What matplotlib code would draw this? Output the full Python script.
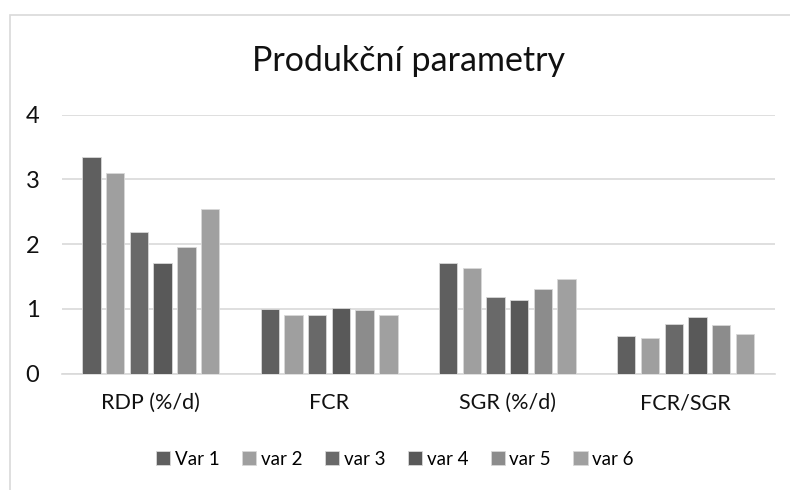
import matplotlib
matplotlib.use("Agg")
import matplotlib.pyplot as plt
from matplotlib.patches import Rectangle
import numpy as np

categories = ["RDP (%/d)", "FCR", "SGR (%/d)", "FCR/SGR"]
series_names = ["Var 1", "var 2", "var 3", "var 4", "var 5", "var 6"]
var1 = [3.34, 1.00, 1.71, 0.58]
var2 = [3.10, 0.91, 1.64, 0.55]
var3 = [2.19, 0.91, 1.18, 0.76]
var4 = [1.71, 1.02, 1.14, 0.88]
var5 = [1.95, 0.99, 1.31, 0.75]
var6 = [2.55, 0.91, 1.47, 0.61]
series = [var1, var2, var3, var4, var5, var6]
colors = ["#5f5f5f", "#9f9f9f", "#696969", "#595959", "#8c8c8c", "#a0a0a0"]
yticks = [0, 1, 2, 3, 4]

plt.rcParams['font.family'] = ['Lato', 'DejaVu Sans']

fig = plt.figure(figsize=(7.9, 4.9), dpi=100)
ax = fig.add_axes([61.7/790, 1-373.7/490, (774.7-61.7)/790, (373.7-114.7)/490])

x = np.arange(len(categories))
step = 0.133
width = 0.103
n = len(series)
for i, (vals, name, c) in enumerate(zip(series, series_names, colors)):
    offs = (i - (n-1)/2) * step
    ax.bar(x + offs, vals, width=width, color=c, label=name,
           edgecolor="#d8d8d8", linewidth=0.6, zorder=3)

ax.set_xlim(-0.5, len(categories)-0.5)
ax.set_ylim(0, 4)
ax.set_yticks(yticks)
ax.set_yticklabels([str(t) for t in yticks])
ax.set_xticks(x)
ax.set_xticklabels(categories)
ax.grid(axis='y', color='#d9d9d9', linewidth=1.2, zorder=0)
ax.tick_params(axis='y', length=0, pad=16, labelsize=17, labelcolor='#111111')
ax.tick_params(axis='x', length=0, pad=14, labelsize=15.5, labelcolor='#111111')
for s in ["top", "right", "left"]:
    ax.spines[s].set_visible(False)
ax.spines["bottom"].set_color('#d9d9d9')
ax.spines["bottom"].set_linewidth(1.2)

fig.text(409/790, 1-61/490, "Produkční parametry", ha='center', va='center',
         fontsize=24.5, color='#111111')

fig.legend(loc='center', bbox_to_anchor=(0.5, 1-459/490), ncol=6, frameon=False,
           fontsize=13.5, handlelength=0.75, handleheight=0.75, handletextpad=0.25,
           columnspacing=1.2)

fig.patches.append(Rectangle((9.5/790, -0.1), 1.2, 1-15.5/490+0.1, transform=fig.transFigure,
                             fill=False, edgecolor='#d9d9d9', linewidth=1.2))

fig.savefig("out.png", dpi=100, facecolor='white')
